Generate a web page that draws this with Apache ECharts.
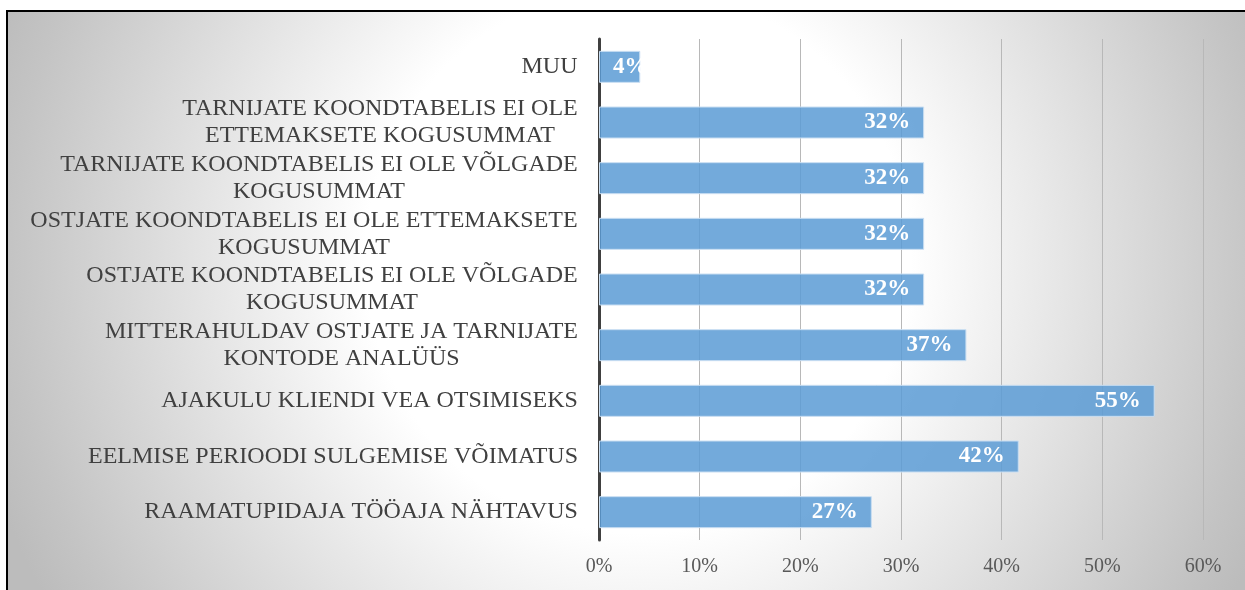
<!DOCTYPE html>
<html>
<head>
<meta charset="utf-8">
<script src="https://cdn.jsdelivr.net/npm/echarts@6/dist/echarts.min.js"></script>
<style>
    html, body { margin: 0; padding: 0; background: #fff; overflow: hidden; width: 1245px; height: 590px; }
    .frame {
        position: absolute; left: 6px; top: 10px;
        width: 1239px; height: 580px; overflow: hidden;
        border-top: 2px solid #000; border-left: 2px solid #000;
    }
    #chart { width: 1260px; height: 578px; }
</style>
</head>
<body>
<div class="frame"><div id="chart"></div></div>
<script>
    // kategooriad ülevalt alla
    const categories = [
        'MUU',
        'TARNIJATE KOONDTABELIS EI OLE\nETTEMAKSETE KOGUSUMMAT',
        'TARNIJATE KOONDTABELIS EI OLE VÕLGADE\nKOGUSUMMAT',
        'OSTJATE KOONDTABELIS EI OLE ETTEMAKSETE\nKOGUSUMMAT',
        'OSTJATE KOONDTABELIS EI OLE VÕLGADE\nKOGUSUMMAT',
        'MITTERAHULDAV OSTJATE JA TARNIJATE\nKONTODE ANALÜÜS',
        'AJAKULU KLIENDI VEA OTSIMISEKS',
        'EELMISE PERIOODI SULGEMISE VÕIMATUS',
        'RAAMATUPIDAJA TÖÖAJA NÄHTAVUS'
    ];
    const values = [4.1, 32.3, 32.3, 32.3, 32.3, 36.5, 55.2, 41.7, 27.1];
    const xTicks = [0, 10, 20, 30, 40, 50, 60];

    const labelFont = 'Liberation Serif';
    const labelSize = 24;

    // mitmerealised sildid keskele joondatud
    const ctx = document.createElement('canvas').getContext('2d');
    ctx.font = labelSize + 'px "' + labelFont + '"';
    const rich = {};
    categories.forEach((c, i) => {
        const w = Math.max(...c.split('\n').map(l => ctx.measureText(l).width));
        rich['c' + i] = {
            width: Math.ceil(w) + 2,
            align: 'center',
            fontFamily: labelFont,
            fontSize: labelSize,
            color: '#404040',
            lineHeight: 27
        };
    });

    // lühikese tulba silt algab tulba seest
    const barData = values.map(v => v < 10
        ? {value: v, label: {position: 'insideLeft', distance: 14}}
        : v);

    const myChart = echarts.init(document.getElementById('chart'));
    const option = {
        backgroundColor: {
            type: 'radial', x: 0.5, y: 0.43, r: 1.18,
            colorStops: [
                {offset: 0, color: '#ffffff'},
                {offset: 0.4, color: '#ffffff'},
                {offset: 0.92, color: '#c4c4c4'},
                {offset: 1, color: '#bcbcbc'}
            ]
        },
        animation: false,
        grid: {left: 591, right: 65, top: 27, bottom: 50},
        xAxis: {
            type: 'value',
            min: xTicks[0],
            max: xTicks[xTicks.length - 1],
            interval: 10,
            axisLine: {show: false},
            axisTick: {show: false},
            splitLine: {lineStyle: {color: '#b8b8b8', width: 1}},
            axisLabel: {
                formatter: '{value}%',
                margin: 17,
                fontFamily: labelFont,
                fontSize: 20,
                color: '#595959'
            }
        },
        yAxis: {
            type: 'category',
            inverse: true,
            data: categories,
            axisLine: {lineStyle: {color: '#404040', width: 3}},
            axisTick: {show: false},
            axisLabel: {
                margin: 20,
                formatter: (value, index) =>
                    value.split('\n').map(l => '{c' + index + '|' + l + '}').join('\n'),
                rich: rich
            }
        },
        series: [{
            type: 'bar',
            data: barData,
            barWidth: 32,
            itemStyle: {
                color: 'rgba(91,155,213,0.85)',
                borderColor: '#c9def2',
                borderWidth: 1
            },
            label: {
                show: true,
                position: 'insideRight',
                distance: 14,
                formatter: p => Math.round(p.value) + '%',
                fontFamily: labelFont,
                fontWeight: 'bold',
                fontSize: 23,
                color: '#ffffff'
            }
        }]
    };
    myChart.setOption(option);
</script>
</body>
</html>
